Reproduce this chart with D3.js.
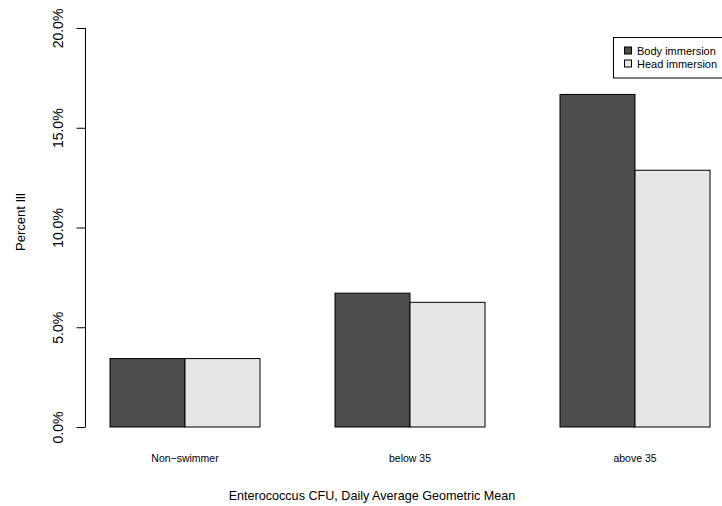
<!DOCTYPE html>
<html>
<head>
<meta charset="utf-8">
<script src="https://cdn.jsdelivr.net/npm/d3@7"></script>
<style>
  html, body { margin: 0; padding: 0; background: #fff; overflow: hidden; }
  svg { display: block; font-family: "Liberation Sans", Arial, Helvetica, sans-serif; }
</style>
</head>
<body>
<svg id="chart" width="722" height="506"></svg>
<script>
// Exposure groups and illness rates (percent) per immersion type
const categories = ["Non\u2212swimmer", "below 35", "above 35"];
const seriesNames = ["Body immersion", "Head immersion"];
const bodyImmersion = [3.43, 6.71, 16.67];
const headImmersion = [3.43, 6.25, 12.87];
const yTicks = [0, 5, 10, 15, 20];
const seriesFill = ["#4d4d4d", "#e6e6e6"];

const svg = d3.select("#chart");

// Bar units: each group has two bars of width 1 with one unit of space before it
const x = d3.scaleLinear().domain([0, 9]).range([35, 710]);
const y = d3.scaleLinear().domain([0, 20]).range([427, 28]);

const values = [bodyImmersion, headImmersion];
const bars = [];
categories.forEach((c, i) => {
  values.forEach((vals, s) => {
    bars.push({ cat: c, series: s, x0: i * 3 + 1 + s, value: vals[i] });
  });
});

svg.append("g")
  .selectAll("rect")
  .data(bars)
  .join("rect")
  .attr("x", d => x(d.x0))
  .attr("width", d => x(d.x0 + 1) - x(d.x0))
  .attr("y", d => y(d.value))
  .attr("height", d => y(0) - y(d.value))
  .attr("fill", d => seriesFill[d.series])
  .attr("stroke", "#000")
  .attr("stroke-width", 1);

// Y axis with rotated tick labels
const yAxis = d3.axisLeft(y)
  .tickValues(yTicks)
  .tickSize(9)
  .tickPadding(0)
  .tickFormat(d => d.toFixed(1) + "%");

const gy = svg.append("g")
  .attr("transform", "translate(85.5,0)")
  .call(yAxis);
gy.selectAll(".domain").attr("d", `M0,${y(20)}V${y(0)}`).attr("stroke", "#000");
gy.selectAll(".tick line").attr("stroke", "#000");
gy.selectAll(".tick text")
  .attr("font-size", 14)
  .attr("fill", "#000")
  .attr("text-anchor", "middle")
  .attr("x", 0)
  .attr("y", 0)
  .attr("dy", 0)
  .attr("transform", "translate(-22.5,0) rotate(-90)");

// Category labels under each group
svg.append("g")
  .selectAll("text")
  .data(categories)
  .join("text")
  .attr("x", (d, i) => x(i * 3 + 2))
  .attr("y", 462)
  .attr("text-anchor", "middle")
  .attr("font-size", 10.5)
  .text(d => d);

// Axis titles
svg.append("text")
  .attr("x", 372)
  .attr("y", 500)
  .attr("text-anchor", "middle")
  .attr("font-size", 12.6)
  .text("Enterococcus CFU, Daily Average Geometric Mean");

svg.append("text")
  .attr("transform", "translate(25,222) rotate(-90)")
  .attr("text-anchor", "middle")
  .attr("font-size", 13)
  .text("Percent Ill");

// Legend (box runs past the right edge)
const legend = svg.append("g").attr("transform", "translate(613.5,37.5)");
legend.append("rect")
  .attr("width", 115)
  .attr("height", 40.5)
  .attr("fill", "#fff")
  .attr("stroke", "#000");
seriesNames.forEach((name, i) => {
  const ly = 13 + i * 13;
  legend.append("rect")
    .attr("x", 11)
    .attr("y", ly - 3.5)
    .attr("width", 7)
    .attr("height", 7)
    .attr("fill", seriesFill[i])
    .attr("stroke", "#000");
  legend.append("text")
    .attr("x", 23.5)
    .attr("y", ly + 4)
    .attr("font-size", 11)
    .text(name);
});
</script>
</body>
</html>
